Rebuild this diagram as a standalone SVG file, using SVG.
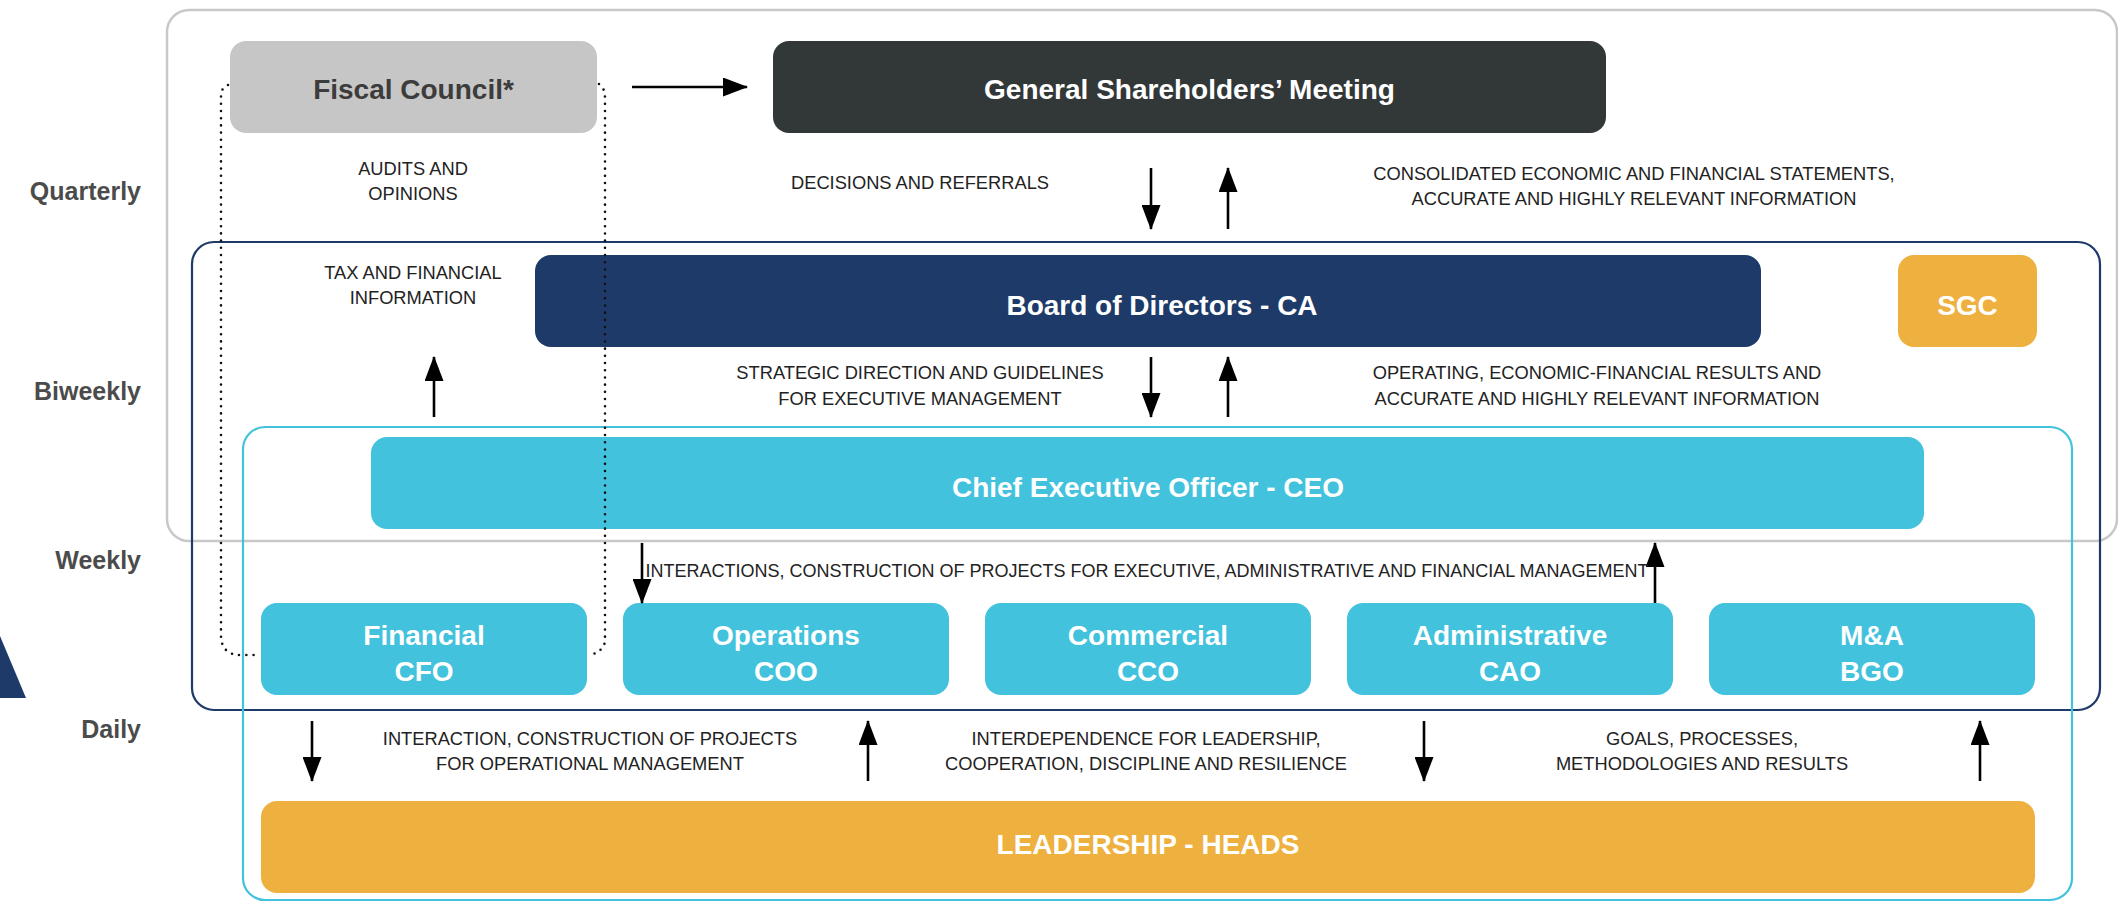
<svg xmlns="http://www.w3.org/2000/svg" width="2118" height="903" viewBox="0 0 2118 903">
<style>
.side{font-family:"Liberation Sans",Arial,sans-serif;font-size:25px;font-weight:bold;fill:#4b4b4b;text-anchor:end}
.lbl{font-family:"Liberation Sans",Arial,sans-serif;font-size:18.3px;fill:#222;text-anchor:middle}
.t{font-family:"Liberation Sans",Arial,sans-serif;font-size:28px;font-weight:bold;fill:#fff;text-anchor:middle}
.cy{fill:#42c2dc}
.yl{fill:#eeb03e}
.con{stroke:#000;stroke-width:2.6;fill:none}
.dot{stroke:#111;stroke-width:2.6;fill:none;stroke-dasharray:0 7.2;stroke-linecap:round}
</style>
<defs>
<marker id="ah" viewBox="0 0 25 19" markerWidth="25" markerHeight="19" refX="24" refY="9.5" orient="auto" markerUnits="userSpaceOnUse">
<path d="M0,0 L25,9.5 L0,19 z" fill="#000"/>
</marker>
</defs>
<rect width="2118" height="903" fill="#fff"/>
<g id="containers" fill="none">
<rect x="167" y="10" width="1950" height="531" rx="22" stroke="#c8c8c8" stroke-width="2.5"/>
<rect x="192" y="242" width="1908" height="468" rx="22" stroke="#1e3a68" stroke-width="2.2"/>
<rect x="243" y="427" width="1829" height="473" rx="22" stroke="#42c2dc" stroke-width="2.2"/>
</g>
<polygon points="0,636 26,698 0,698" fill="#1e3a68"/>
<g id="side-labels">
<text class="side" x="141" y="200">Quarterly</text>
<text class="side" x="141" y="400">Biweekly</text>
<text class="side" x="141" y="569">Weekly</text>
<text class="side" x="141" y="738">Daily</text>
</g>
<g id="fiscal-council">
<rect x="230" y="41" width="367" height="92" rx="16" fill="#c6c6c6"/>
<text class="t" x="413.5" y="99" style="fill:#3c3c3c">Fiscal Council*</text>
</g>
<g id="general-shareholders-meeting">
<rect x="773" y="41" width="833" height="92" rx="16" fill="#323738"/>
<text class="t" x="1189.5" y="99">General Shareholders’ Meeting</text>
</g>
<g id="board-of-directors">
<rect x="535" y="255" width="1226" height="92" rx="16" fill="#1e3a68"/>
<text class="t" x="1162" y="315">Board of Directors - CA</text>
</g>
<g id="sgc">
<rect x="1898" y="255" width="139" height="92" rx="16" class="yl"/>
<text class="t" x="1967.5" y="315">SGC</text>
</g>
<g id="ceo">
<rect x="371" y="437" width="1553" height="92" rx="16" class="cy"/>
<text class="t" x="1148" y="497">Chief Executive Officer - CEO</text>
</g>
<g id="financial">
<rect x="261" y="603" width="326" height="92" rx="16" class="cy"/>
<text class="t" x="424" y="645">Financial</text>
<text class="t" x="424" y="681">CFO</text>
</g>
<g id="operations">
<rect x="623" y="603" width="326" height="92" rx="16" class="cy"/>
<text class="t" x="786" y="645">Operations</text>
<text class="t" x="786" y="681">COO</text>
</g>
<g id="commercial">
<rect x="985" y="603" width="326" height="92" rx="16" class="cy"/>
<text class="t" x="1148" y="645">Commercial</text>
<text class="t" x="1148" y="681">CCO</text>
</g>
<g id="administrative">
<rect x="1347" y="603" width="326" height="92" rx="16" class="cy"/>
<text class="t" x="1510" y="645">Administrative</text>
<text class="t" x="1510" y="681">CAO</text>
</g>
<g id="ma">
<rect x="1709" y="603" width="326" height="92" rx="16" class="cy"/>
<text class="t" x="1872" y="645">M&amp;A</text>
<text class="t" x="1872" y="681">BGO</text>
</g>
<g id="leadership-heads">
<rect x="261" y="801" width="1774" height="92" rx="16" class="yl"/>
<text class="t" x="1148" y="854">LEADERSHIP - HEADS</text>
</g>
<g id="connectors">
<path class="con" d="M632,87 L747,87" marker-end="url(#ah)"/>
<path class="con" d="M1151,168 L1151,229" marker-end="url(#ah)"/>
<path class="con" d="M1228,229 L1228,168" marker-end="url(#ah)"/>
<path class="con" d="M1151,357 L1151,417" marker-end="url(#ah)"/>
<path class="con" d="M1228,417 L1228,357" marker-end="url(#ah)"/>
<path class="con" d="M434,417 L434,357" marker-end="url(#ah)"/>
<path class="con" d="M642,543 L642,603" marker-end="url(#ah)"/>
<path class="con" d="M1655,603 L1655,543" marker-end="url(#ah)"/>
<path class="con" d="M312,721 L312,781" marker-end="url(#ah)"/>
<path class="con" d="M868,781 L868,721" marker-end="url(#ah)"/>
<path class="con" d="M1424,721 L1424,781" marker-end="url(#ah)"/>
<path class="con" d="M1980,781 L1980,721" marker-end="url(#ah)"/>
<path class="dot" d="M228,85 Q221,87 221,97 L221,635 Q221,655 241,655 L258,655"/>
<path class="dot" d="M599,84 Q605,88 605,98 L605,640 Q605,650 591,655"/>
</g>
<g id="labels">
<text class="lbl" x="413" y="175">AUDITS AND</text>
<text class="lbl" x="413" y="200">OPINIONS</text>
<text class="lbl" x="413" y="279">TAX AND FINANCIAL</text>
<text class="lbl" x="413" y="304">INFORMATION</text>
<text class="lbl" x="920" y="189">DECISIONS AND REFERRALS</text>
<text class="lbl" x="1634" y="180">CONSOLIDATED ECONOMIC AND FINANCIAL STATEMENTS,</text>
<text class="lbl" x="1634" y="205">ACCURATE AND HIGHLY RELEVANT INFORMATION</text>
<text class="lbl" x="920" y="379">STRATEGIC DIRECTION AND GUIDELINES</text>
<text class="lbl" x="920" y="405">FOR EXECUTIVE MANAGEMENT</text>
<text class="lbl" x="1597" y="379">OPERATING, ECONOMIC-FINANCIAL RESULTS AND</text>
<text class="lbl" x="1597" y="405">ACCURATE AND HIGHLY RELEVANT INFORMATION</text>
<text class="lbl" x="1147" y="577" style="font-size:18px">INTERACTIONS, CONSTRUCTION OF PROJECTS FOR EXECUTIVE, ADMINISTRATIVE AND FINANCIAL MANAGEMENT</text>
<text class="lbl" x="590" y="745">INTERACTION, CONSTRUCTION OF PROJECTS</text>
<text class="lbl" x="590" y="770">FOR OPERATIONAL MANAGEMENT</text>
<text class="lbl" x="1146" y="745">INTERDEPENDENCE FOR LEADERSHIP,</text>
<text class="lbl" x="1146" y="770">COOPERATION, DISCIPLINE AND RESILIENCE</text>
<text class="lbl" x="1702" y="745">GOALS, PROCESSES,</text>
<text class="lbl" x="1702" y="770">METHODOLOGIES AND RESULTS</text>
</g>
</svg>
